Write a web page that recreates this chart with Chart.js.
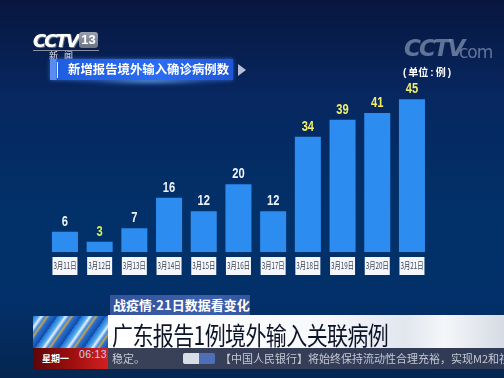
<!DOCTYPE html>
<html lang="zh-cn">
<head>
<meta charset="UTF-8">
<title>新增报告境外输入确诊病例数</title>
<script src="https://cdn.jsdelivr.net/npm/chart.js"></script>
<style>
  html, body { margin: 0; padding: 0; }
  body {
    width: 504px; height: 378px; overflow: hidden; position: relative;
    font-family: "Noto Sans CJK SC", "Noto Sans", sans-serif;
    background: linear-gradient(to bottom, #08163e 0%, #072760 25%, #023068 55%, #03306a 80%, #052650 100%);
  }
  .abs { position: absolute; }
  #chartBox { position: absolute; left: 0; top: 0; width: 504px; height: 378px; z-index: 1; }
  .over { z-index: 2; }
  /* logo */
  #logo { left: 33px; top: 30px; color: #fff; font: italic 900 18px "DejaVu Sans", sans-serif; letter-spacing: -2px;
          text-shadow: 0 0 1px #8890a0, 1px 1px 0 #6a7080; }
  #ch13 { left: 79px; top: 32px; width: 19px; height: 16px; border-radius: 3px; background: linear-gradient(#9aa0ae, #6c7282);
          color: #fff; font: bold 13px "Liberation Sans", sans-serif; line-height: 16px; text-align: center; }
  #logoLine { left: 33px; top: 50px; width: 66px; height: 1px; background: #8a90a0; }
  #xinwen { left: 49px; top: 49px; color: #e8ecf4; font-size: 9px; letter-spacing: 6px; }
  #titleBar { left: 50px; top: 59px; width: 183px; height: 21px;
              background: linear-gradient(to right, #5b8cf0 0px, #5b8cf0 6px, #1f5ee0 7px, #2a6cf2 60%, #1f56d6 100%);
              box-shadow: 0 0 4px rgba(80,140,255,0.6); }
  #titleBar .line { position: absolute; left: 7px; top: 3px; width: 1px; height: 16px; background: #e6eeff; }
  #titleBar .txt { position: absolute; left: 18px; top: 0; line-height: 21px; color: #fff; font-weight: bold; font-size: 12.4px; white-space: nowrap; }
  #glow { left: 60px; top: 74px; width: 180px; height: 14px;
          background: radial-gradient(ellipse at center, rgba(120,190,255,0.55) 0%, rgba(60,120,255,0.15) 45%, rgba(0,0,0,0) 70%); }
  #arrow { left: 238px; top: 64px; width: 0; height: 0; border-top: 6px solid transparent; border-bottom: 6px solid transparent;
           border-left: 8px solid #b8c0d8; }
  #wm { left: 404px; top: 35px; color: rgba(190,200,225,0.5); font: italic 900 23px "DejaVu Sans", sans-serif; letter-spacing: -2px; }
  #wmCom { left: 459px; top: 42px; color: rgba(190,200,225,0.5); font: 17px "DejaVu Sans", sans-serif; letter-spacing: -1px; }
  #unit { left: 401px; top: 64px; color: #fff; font-weight: bold; font-size: 10px; white-space: nowrap; }
  #unit b { font-family: "Liberation Sans", sans-serif; margin: 0 2px; }
  /* bottom */
  #tag { left: 110px; top: 295px; width: 140px; height: 20px; background: linear-gradient(to right, #35539c, #3d5fae 70%, #34549e);
         color: #fff; font-weight: bold; font-size: 13px; line-height: 20px; text-indent: 3px; white-space: nowrap; }
  #tag .p { font-family: "Liberation Sans", sans-serif; }
  #swirl { left: 33px; top: 316px; width: 75px; height: 32px;
           background: repeating-linear-gradient(125deg, #1f6fd0 0px, #5ab0f0 5px, #e8f2ff 7px, #3a88e0 10px, #c9a24a 12px, #2a70d0 14px, #0e4aa8 20px); }
  #banner { left: 108px; top: 315px; width: 396px; height: 33px;
            background: linear-gradient(to right, #ffffff 0%, #f7f8fb 55%, #e2e6ee 75%, #f4f6f9 85%, #d6dbe4 100%); }
  #banner .txt { position: absolute; left: 4px; top: 2px; color: #0c1428; font-size: 21px; line-height: 28px; white-space: nowrap;
                 letter-spacing: -0.6px; transform: scaleY(1.2); transform-origin: left top; }
  #clock { left: 33px; top: 348px; width: 75px; height: 21px; background: linear-gradient(to right, #5e0606, #a01010 55%, #d42020); }
  #clock .d { position: absolute; left: 9px; top: 0; line-height: 21px; color: #fff; font-weight: bold; font-size: 9px; }
  #clock .t { position: absolute; left: 46px; top: 0; line-height: 21px; color: #bcd4ff; font: 10.5px "Liberation Sans", sans-serif; letter-spacing: 0.3px; }
  #ticker { left: 108px; top: 348px; width: 396px; height: 21px; background: linear-gradient(to right, #3a4258, #2f3a56); overflow: hidden; }
  #ticker span { position: absolute; top: 0; line-height: 21px; color: #c4c9d6; font-size: 11px; white-space: nowrap; }
  #tickLogo { left: 75px; top: 5px; width: 32px; height: 11px; background: linear-gradient(to right, #d9dde6 50%, #4d6fb8 50%); border-radius: 2px; }
</style>
</head>
<body>

<!-- 台标和标题 -->
<div class="abs over" id="logo">CCTV</div>
<div class="abs over" id="ch13">13</div>
<div class="abs over" id="logoLine"></div>
<div class="abs over" id="xinwen">新闻</div>
<div class="abs over" id="glow"></div>
<div class="abs over" id="titleBar"><div class="line"></div><div class="txt">新增报告境外输入确诊病例数</div></div>
<div class="abs over" id="arrow"></div>
<div class="abs over" id="wm">CCTV</div>
<div class="abs over" id="wmCom">com</div>
<div class="abs over" id="unit"><b>(</b>单位<b>:</b>例<b>)</b></div>

<div id="chartBox"><canvas id="grafico"></canvas></div>

<!-- 底部字幕 -->
<div class="abs over" id="tag">战疫情<span class="p">·</span>21日数据看变化</div>
<div class="abs over" id="swirl"></div>
<div class="abs over" id="banner"><div class="txt">广东报告1例境外输入关联病例</div></div>
<div class="abs over" id="clock"><span class="d">星期一</span><span class="t">06:13</span></div>
<div class="abs over" id="ticker">
  <span style="left:4px">稳定。</span>
  <div class="abs" id="tickLogo"></div>
  <span style="left:112px">【中国人民银行】将始终保持流动性合理充裕，实现M2和社</span>
</div>

<script>
  // dados do gráfico
  const datas = ['3月11日', '3月12日', '3月13日', '3月14日', '3月15日', '3月16日', '3月17日', '3月18日', '3月19日', '3月20日', '3月21日'];
  const casosImportados = [6, 3, 7, 16, 12, 20, 12, 34, 39, 41, 45];
  const eixoMax = 50;

  const corBarra = '#2d8cf0';
  const coresRotulo = ['#eef2fa', '#d4ee5a', '#eef2fa', '#eef2fa', '#eef2fa', '#eef2fa', '#eef2fa',
                       '#f2ee6a', '#f2ee6a', '#f2ee6a', '#f2ee6a'];

  // rótulos: valor acima da barra e data na caixa branca
  const rotulos = {
    id: 'rotulos',
    afterDatasetsDraw(chart) {
      const ctx = chart.ctx;
      const meta = chart.getDatasetMeta(0);
      ctx.save();
      ctx.textAlign = 'center';
      ctx.textBaseline = 'middle';
      meta.data.forEach((bar, i) => {
        const txt = String(casosImportados[i]);
        ctx.fillStyle = coresRotulo[i];
        ctx.font = 'bold 14px "Liberation Sans", sans-serif';
        ctx.fillText(txt, bar.x, bar.y - 10, txt.length * 6.2);

        ctx.fillStyle = '#f3f7fd';
        ctx.fillRect(bar.x - 12.5, bar.base + 5, 25, 18);
        ctx.fillStyle = '#3a3f4a';
        ctx.font = '9px "Noto Sans CJK SC", sans-serif';
        ctx.fillText(datas[i], bar.x, bar.base + 14, 23);
      });
      ctx.restore();
    }
  };

  new Chart(document.getElementById('grafico'), {
    type: 'bar',
    data: {
      labels: datas,
      datasets: [{
        data: casosImportados,
        backgroundColor: corBarra,
        borderWidth: 0,
        categoryPercentage: 1,
        barPercentage: 0.75
      }]
    },
    options: {
      responsive: true,
      maintainAspectRatio: false,
      animation: false,
      layout: { padding: { left: 47.6, right: 74.7, top: 82.4, bottom: 126 } },
      plugins: { legend: { display: false }, tooltip: { enabled: false } },
      scales: {
        x: { display: false, offset: true, grid: { display: false } },
        y: { display: false, min: 0, max: eixoMax }
      }
    },
    plugins: [rotulos]
  });
</script>
</body>
</html>
